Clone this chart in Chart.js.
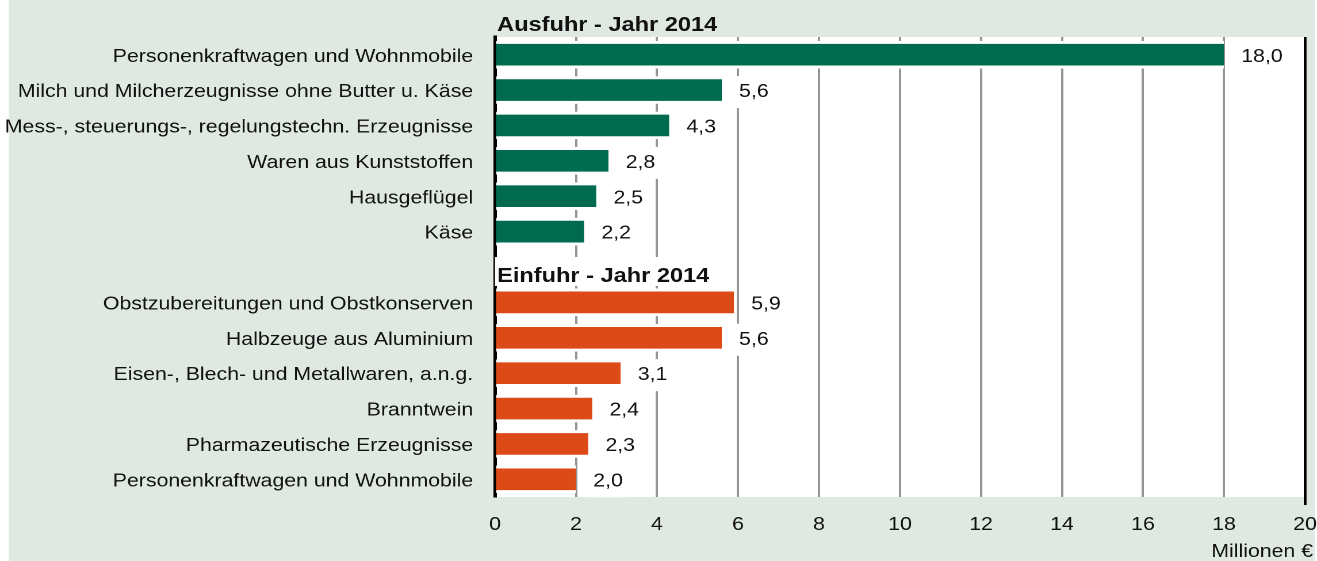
<!DOCTYPE html>
<html>
<head>
<meta charset="utf-8">
<script src="https://cdn.jsdelivr.net/npm/chart.js@4.4.1/dist/chart.umd.min.js"></script>
<style>
  html, body { margin: 0; padding: 0; background: #ffffff; overflow: hidden; }
  #wrap { position: absolute; left: 0; top: 0; width: 1145px; height: 561px; transform: scaleX(1.15022); transform-origin: 0 0; }
</style>
</head>
<body>
<div id="wrap"><canvas id="c" width="1145" height="561"></canvas></div>
<script>
// ---- data ----
const exportCategories = [
  'Personenkraftwagen und Wohnmobile',
  'Milch und Milcherzeugnisse ohne Butter u. Käse',
  'Mess-, steuerungs-, regelungstechn. Erzeugnisse',
  'Waren aus Kunststoffen',
  'Hausgeflügel',
  'Käse'
];
const exportValues = [18.0, 5.6, 4.3, 2.8, 2.5, 2.2];
const importCategories = [
  'Obstzubereitungen und Obstkonserven',
  'Halbzeuge aus Aluminium',
  'Eisen-, Blech- und Metallwaren, a.n.g.',
  'Branntwein',
  'Pharmazeutische Erzeugnisse',
  'Personenkraftwagen und Wohnmobile'
];
const importValues = [5.9, 5.6, 3.1, 2.4, 2.3, 2.0];
const sectionTitles = ['Ausfuhr - Jahr 2014', 'Einfuhr - Jahr 2014'];
const axisUnit = 'Millionen €';
const xMin = 0, xMax = 20, xStep = 2;

// ---- build ----
const S = 1317 / 1145;           // horizontal stretch applied by CSS
const FONT = "'Liberation Sans', Arial, sans-serif";
const GREEN = '#006b4f', ORANGE = '#dc4a18', BG = '#dfe9e1', GRID = '#959595';

const labels = [...exportCategories, '', ...importCategories];
const values = [...exportValues, null, ...importValues];
const colors = [...exportValues.map(() => GREEN), 'rgba(0,0,0,0)', ...importValues.map(() => ORANGE)];

const fmt = v => v.toFixed(1).replace('.', ',');

const decor = {
  id: 'decor',
  beforeDraw(chart) {
    const ctx = chart.ctx, a = chart.chartArea;
    ctx.save();
    ctx.fillStyle = BG;
    ctx.fillRect(9 / S, 0, (1315 - 9) / S, chart.height);
    ctx.fillStyle = '#ffffff';
    ctx.fillRect(a.left, a.top, a.right - a.left, a.bottom - a.top);
    ctx.restore();
  },
  afterDatasetsDraw(chart) {
    const ctx = chart.ctx, a = chart.chartArea;
    const meta = chart.getDatasetMeta(0);
    ctx.save();
    // value labels
    ctx.font = '18.5px ' + FONT;
    ctx.textBaseline = 'middle';
    ctx.textAlign = 'left';
    meta.data.forEach((el, i) => {
      const v = values[i];
      if (v === null || v === undefined) return;
      const t = fmt(v);
      const x = el.x + 15, y = el.y + 2;
      const w = ctx.measureText(t).width;
      ctx.fillStyle = '#ffffff';
      ctx.fillRect(x - 3, y - 16, w + 6, 32);
      ctx.fillStyle = '#111111';
      ctx.fillText(t, x, y);
    });
    // section titles
    ctx.font = 'bold 20.5px ' + FONT;
    ctx.textBaseline = 'alphabetic';
    ctx.fillStyle = '#111111';
    ctx.fillText(sectionTitles[0], a.left + 1.8, 31);
    const w2 = ctx.measureText(sectionTitles[1]).width;
    ctx.fillStyle = '#ffffff';
    ctx.fillRect(a.left, 257, w2 + 6, 29);
    ctx.fillStyle = '#111111';
    ctx.fillText(sectionTitles[1], a.left + 1.8, 282);
    // axis unit
    ctx.font = '18.5px ' + FONT;
    ctx.textAlign = 'right';
    ctx.fillText(axisUnit, 1313 / S, 557);
    ctx.restore();
  }
};

new Chart(document.getElementById('c'), {
  type: 'bar',
  data: {
    labels: labels,
    datasets: [{
      data: values,
      backgroundColor: colors,
      borderColor: '#ffffff',
      borderWidth: { top: 3, bottom: 3, left: 0, right: 0 },
      borderSkipped: false,
      barThickness: 27
    }]
  },
  options: {
    indexAxis: 'y',
    responsive: false,
    animation: false,
    devicePixelRatio: 2,
    layout: { padding: { left: 0, top: 37, right: 1145 - 1305 / S, bottom: 0 } },
    plugins: { legend: { display: false }, tooltip: { enabled: false }, title: { display: false } },
    scales: {
      x: {
        min: xMin, max: xMax,
        afterFit(s) { s.height = 64; s.paddingRight = 0; s.paddingLeft = 0; },
        ticks: { stepSize: xStep, color: '#111111', font: { family: FONT, size: 18.5 }, padding: 9, maxRotation: 0 },
        grid: {
          color: c => c.tick && c.tick.value === xMax ? '#000000' : (c.tick && c.tick.value === xMin ? 'rgba(0,0,0,0)' : GRID),
          lineWidth: c => c.tick && c.tick.value === xMax ? 2.4 : 2,
          tickColor: c => c.tick && c.tick.value === xMax ? '#000000' : 'rgba(0,0,0,0)',
          tickLength: 8,
          drawTicks: true
        },
        border: { display: false }
      },
      y: {
        z: 1,
        afterFit(s) { s.width = 495 / S; },
        ticks: { color: '#111111', font: { family: FONT, size: 18.5 }, padding: 19, autoSkip: false, labelOffset: 2 },
        grid: { color: 'rgba(0,0,0,0)', drawTicks: false },
        border: { display: true, color: '#000000', width: 3 }
      }
    }
  },
  plugins: [decor]
});
</script>
</body>
</html>
